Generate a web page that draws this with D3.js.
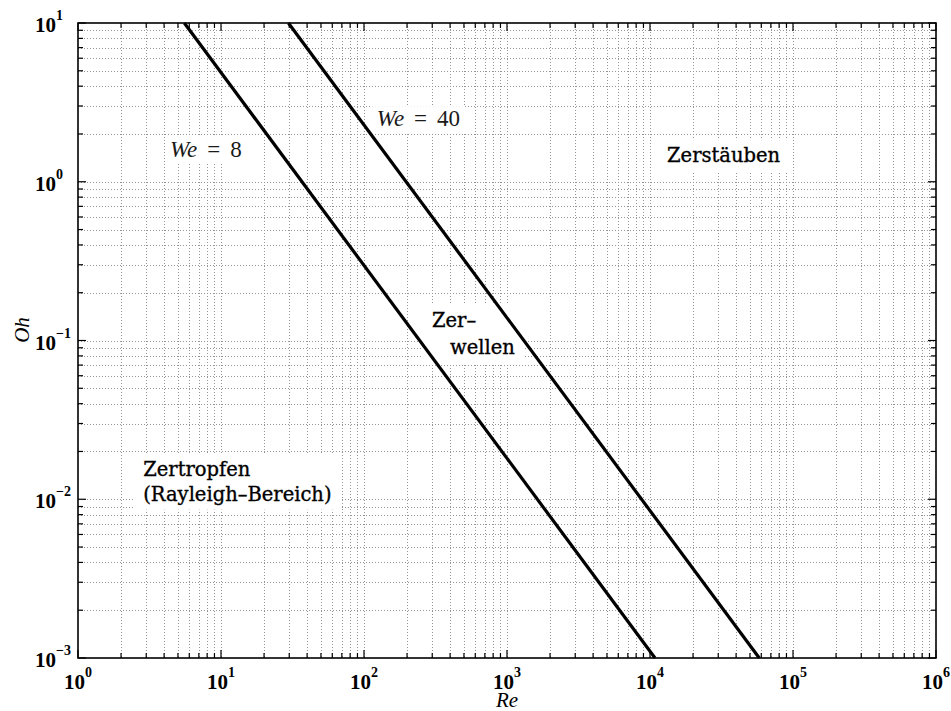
<!DOCTYPE html>
<html>
<head>
<meta charset="utf-8">
<script src="https://cdn.jsdelivr.net/npm/d3@7"></script>
<style>
  html, body { margin: 0; padding: 0; background: #fff; }
  svg { display: block; }
</style>
</head>
<body>
<svg id="chart" width="951" height="711"></svg>
<script>
// ---- data ----
const xDomain = [1, 1e6];
const yDomain = [1e-3, 10];
const xTickExps = [0, 1, 2, 3, 4, 5, 6];
const yTickExps = [-3, -2, -1, 0, 1];
// We = 8 boundary (Re, Oh)
const reWe8 = [5.54, 10840];
const ohWe8 = [10, 0.001];
// We = 40 boundary (Re, Oh)
const reWe40 = [29.6, 58100];
const ohWe40 = [10, 0.001];
const weValues = ["8", "40"];
const regionTexts = [["Zerstäuben"], ["Zer–", "wellen"], ["Zertropfen", "(Rayleigh–Bereich)"]];

// ---- layout ----
const svg = d3.select("#chart");
const L = 78, R = 936, T = 23, B = 658;
const x = d3.scaleLog().domain(xDomain).range([L, R]);
const y = d3.scaleLog().domain(yDomain).range([B, T]);

const xTicks = x.ticks();
const yTicks = y.ticks();
const isMajor = v => Math.abs(Math.log10(v) - Math.round(Math.log10(v))) < 1e-9;

const gGrid = svg.append("g");
const gBack = svg.append("g");
const gAxes = svg.append("g");
const gLines = svg.append("g");
const gText = svg.append("g");

// grid
const grid = gGrid.attr("stroke", "#959595").attr("stroke-width", 1)
  .attr("stroke-dasharray", "1,2").attr("shape-rendering", "crispEdges");
grid.selectAll("line.vx").data(xTicks.filter(v => v > xDomain[0] && v < xDomain[1])).join("line")
  .attr("x1", d => Math.round(x(d)) + 0.5).attr("x2", d => Math.round(x(d)) + 0.5)
  .attr("y1", T).attr("y2", B);
grid.selectAll("line.hy").data(yTicks.filter(v => v > yDomain[0] && v < yDomain[1])).join("line")
  .attr("y1", d => Math.round(y(d)) + 0.5).attr("y2", d => Math.round(y(d)) + 0.5)
  .attr("x1", L).attr("x2", R);

// ticks (inward, all four sides)
const tk = gAxes.append("g").attr("stroke", "#000").attr("stroke-width", 1.2);
xTicks.forEach(v => {
  const len = isMajor(v) ? 8 : 5;
  const xp = x(v);
  tk.append("line").attr("x1", xp).attr("x2", xp).attr("y1", B).attr("y2", B - len);
  tk.append("line").attr("x1", xp).attr("x2", xp).attr("y1", T).attr("y2", T + len);
});
yTicks.forEach(v => {
  const len = isMajor(v) ? 8 : 5;
  const yp = y(v);
  tk.append("line").attr("y1", yp).attr("y2", yp).attr("x1", L).attr("x2", L + len);
  tk.append("line").attr("y1", yp).attr("y2", yp).attr("x1", R).attr("x2", R - len);
});

// frame
gAxes.append("rect").attr("x", L).attr("y", T).attr("width", R - L).attr("height", B - T)
  .attr("fill", "none").attr("stroke", "#000").attr("stroke-width", 1.6);

// boundary lines
const line = d3.line().x(d => x(d[0])).y(d => y(d[1]));
[[reWe8, ohWe8], [reWe40, ohWe40]].forEach(([re, oh]) => {
  gLines.append("path").datum(re.map((r, i) => [r, oh[i]]))
    .attr("d", line).attr("fill", "none").attr("stroke", "#000").attr("stroke-width", 3.2);
});

// tick labels
const fTick = "'Liberation Serif', serif";
const exp = e => (e < 0 ? "\u2212" + Math.abs(e) : String(e));
xTickExps.forEach(e => {
  const t = gText.append("text").attr("x", x(Math.pow(10, e))).attr("y", 689)
    .attr("text-anchor", "middle").attr("font-family", fTick).attr("font-weight", "bold")
    .attr("font-size", 21).attr("fill", "#000");
  t.append("tspan").text("10");
  t.append("tspan").attr("dy", -12).attr("font-size", 14).text(exp(e));
});
yTickExps.forEach(e => {
  const t = gText.append("text").attr("x", 35).attr("y", y(Math.pow(10, e)) + 9)
    .attr("text-anchor", "start").attr("font-family", fTick).attr("font-weight", "bold")
    .attr("font-size", 21).attr("fill", "#000");
  t.append("tspan").text("10");
  t.append("tspan").attr("dy", -12).attr("font-size", 14).text(exp(e));
});

// axis labels
gText.append("text").attr("x", 507).attr("y", 707).attr("text-anchor", "middle")
  .attr("font-family", fTick).attr("font-style", "italic").attr("font-size", 21).text("Re");
gText.append("text").attr("transform", "translate(29,330) rotate(-90)").attr("text-anchor", "middle")
  .attr("font-family", fTick).attr("font-style", "italic").attr("font-size", 21).text("Oh");

// helper: white background behind a text node
function backdrop(node, padX, padTop, padBot) {
  const bb = node.getBBox();
  gBack.append("rect")
    .attr("x", bb.x - padX).attr("y", bb.y - padTop)
    .attr("width", bb.width + 2 * padX).attr("height", bb.height + padTop + padBot)
    .attr("fill", "#fff");
}

// We labels (positioned in data coordinates)
const wePos = [[4.4, 1.43], [123, 2.24]];
weValues.forEach((val, i) => {
  const t = gText.append("text").attr("x", x(wePos[i][0])).attr("y", y(wePos[i][1]))
    .attr("font-family", fTick).attr("font-size", 23).attr("fill", "#1a1a1a");
  t.append("tspan").attr("font-style", "italic").text("We");
  t.append("tspan").attr("dx", 10).text("=");
  t.append("tspan").attr("dx", 10).text(val);
  backdrop(t.node(), 5, 0, 2);
});

// region labels (positioned in data coordinates)
const fReg = "'DejaVu Serif', serif";
const regionPos = [
  [[3.27e4, 1.33]],
  [[299, 0.122], [400, 0.082]],
  [[2.86, 0.01395], [2.86, 0.0098]]
];
const regionAnchor = ["middle", "start", "start"];
regionTexts.forEach((lines, k) => {
  const t = gText.append("text").attr("font-family", fReg).attr("font-size", 19.5)
    .attr("fill", "#000").attr("stroke", "#000").attr("stroke-width", 0.35)
    .attr("text-anchor", regionAnchor[k]);
  lines.forEach((s, i) => {
    t.append("tspan").attr("x", x(regionPos[k][i][0])).attr("y", y(regionPos[k][i][1])).text(s);
  });
  backdrop(t.node(), 9, 4, 4);
});
</script>
</body>
</html>
